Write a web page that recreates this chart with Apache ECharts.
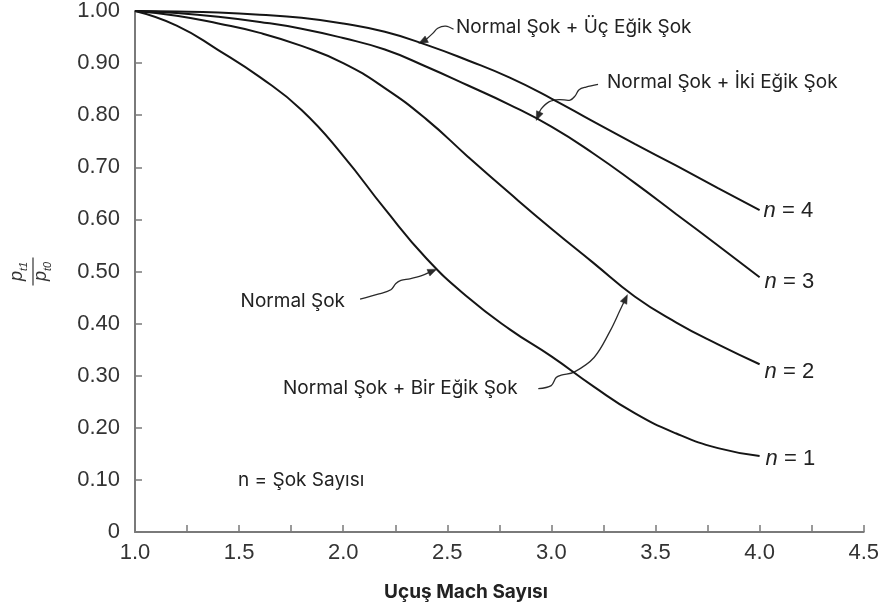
<!DOCTYPE html>
<html>
<head>
<meta charset="utf-8">
<script src="https://cdn.jsdelivr.net/npm/echarts@6/dist/echarts.min.js"></script>
<style>html,body{margin:0;padding:0;background:#fff}#c{width:882px;height:613px}</style>
</head>
<body>
<div id="c"></div>
<script>
// ---- data ----
const mach = [1.0,1.2,1.4,1.6,1.8,2.0,2.2,2.4,2.6,2.8,3.0,3.2,3.4,3.6,3.8,4.0];
const n1 = [1.000,0.972,0.925,0.873,0.810,0.722,0.620,0.525,0.450,0.389,0.337,0.280,0.228,0.189,0.161,0.146];
const n2 = [1.000,0.991,0.976,0.958,0.933,0.900,0.852,0.792,0.720,0.650,0.582,0.517,0.452,0.402,0.360,0.322];
const n3 = [1.000,0.996,0.989,0.979,0.966,0.948,0.926,0.893,0.857,0.820,0.778,0.727,0.670,0.610,0.550,0.489];
const n4 = [1.000,0.999,0.997,0.993,0.987,0.976,0.960,0.935,0.905,0.872,0.832,0.788,0.745,0.703,0.660,0.618];
const seriesNames = ['n = 1','n = 2','n = 3','n = 4'];
const endLabelTexts = ['1','2','3','4'];
const xTickLabels = ['1.0','1.5','2.0','2.5','3.0','3.5','4.0','4.5'];
const yTickLabels = ['0','0.10','0.20','0.30','0.40','0.50','0.60','0.70','0.80','0.90','1.00'];
const xAxisTitle = 'Uçuş Mach Sayısı';
const yAxisTitle = ['t1','t0'];
const noteTexts = ['Normal Şok + Üç Eğik Şok','Normal Şok + İki Eğik Şok','Normal Şok','Normal Şok + Bir Eğik Şok','n = Şok Sayısı'];
// annotation arrow paths, in data coordinates (Mach, pt1/pt0)
const arrowUc  = [[2.530,0.965],[2.492,0.971],[2.454,0.967],[2.430,0.957],[2.397,0.945],[2.363,0.938]];
const arrowIki = [[3.224,0.859],[3.166,0.854],[3.133,0.849],[3.114,0.837],[3.090,0.829],[3.037,0.830],[2.990,0.826],[2.951,0.812],[2.927,0.790]];
const arrowNormal = [[2.081,0.447],[2.172,0.457],[2.229,0.465],[2.253,0.477],[2.277,0.483],[2.320,0.486],[2.377,0.492],[2.449,0.5045]];
const arrowBir = [[2.937,0.275],[2.999,0.281],[3.023,0.2965],[3.047,0.301],[3.109,0.307],[3.205,0.335],[3.281,0.385],[3.329,0.425],[3.365,0.4556]];

const chart = echarts.init(document.getElementById('c'), null, {renderer:'canvas'});
const lineData = [n1,n2,n3,n4].map(arr => arr.map((v,i)=>[mach[i], v]));
const endOffsets = [[-2,3],[-3,8],[-3,5],[-4,1]];
const AXIS = '#7a7a7a';
const TXT = '#333';

const option = {
  animation:false,
  backgroundColor:'#fff',
  grid:{left:132, right:18, top:10, bottom:81},
  xAxis:{
    type:'value', min:1, max:4.5, interval:0.25,
    axisLine:{show:true, onZero:false, lineStyle:{color:AXIS, width:2}},
    axisTick:{show:true, inside:true, length:7, lineStyle:{color:AXIS, width:1.5}},
    splitLine:{show:false},
    axisLabel:{
      margin:10, color:TXT, fontFamily:'Liberation Sans', fontSize:22,
      formatter:(v)=>{ const k = Math.round((v-1)/0.5); return Math.abs((v-1)/0.5 - k) < 1e-6 ? xTickLabels[k] : ''; }
    }
  },
  yAxis:{
    type:'value', min:0, max:1, interval:0.1,
    axisLine:{show:true, lineStyle:{color:AXIS, width:2}},
    axisTick:{show:true, inside:true, length:7, lineStyle:{color:AXIS, width:1.5}},
    splitLine:{show:false},
    name:'{p|p}{s|' + yAxisTitle[0] + '}\n{p|p}{s|' + yAxisTitle[1] + '}',
    nameLocation:'middle', nameRotate:90, nameGap:82,
    nameTextStyle:{
      color:TXT,
      rich:{
        p:{fontFamily:'Liberation Sans', fontStyle:'italic', fontSize:18, color:TXT, lineHeight:24},
        s:{fontFamily:'Liberation Sans', fontStyle:'italic', fontSize:11, color:TXT, lineHeight:24, verticalAlign:'bottom'}
      }
    },
    axisLabel:{
      margin:15, color:TXT, fontFamily:'Liberation Sans', fontSize:22,
      formatter:(v)=> yTickLabels[Math.round(v*10)]
    }
  },
  series: lineData.map((d,i)=>({
    name: seriesNames[i], type:'line', data:d, smooth:0.5,
    showSymbol:false, symbol:'none',
    lineStyle:{color:'#151515', width:2},
    endLabel:{
      show:true, offset:endOffsets[i], color:'#222',
      formatter:()=> '{i|n} = ' + endLabelTexts[i],
      fontFamily:'Liberation Sans', fontSize:22,
      rich:{i:{fontStyle:'italic', fontFamily:'Liberation Sans', fontSize:22, color:'#222'}}
    }
  }))
};
chart.setOption(option);

function px(d){ return chart.convertToPixel({gridIndex:0}, d); }
function arrow(pts){
  const p = pts.map(px);
  const last = p[p.length-1], prev = p[p.length-2];
  const ang = Math.atan2(last[1]-prev[1], last[0]-prev[0]);
  const L = 9, W = 3.6;
  const bx = last[0]-L*Math.cos(ang), by = last[1]-L*Math.sin(ang);
  const head = [last, [bx - W*Math.sin(ang), by + W*Math.cos(ang)], [bx + W*Math.sin(ang), by - W*Math.cos(ang)]];
  const line = p.slice(0,-1).concat([[bx+2*Math.cos(ang), by+2*Math.sin(ang)]]);
  return [
    {type:'polyline', silent:true, shape:{points:line, smooth:0.35}, style:{stroke:'#2a2a2a', lineWidth:1.3, fill:null}},
    {type:'polygon', silent:true, shape:{points:head}, style:{fill:'#2a2a2a', stroke:'#2a2a2a', lineWidth:0.5}}
  ];
}
const NOTE_FONT = '19px Inter';
function note(text, x, y, align){
  return {type:'text', silent:true, x:x, y:y, style:{text:text, font:NOTE_FONT, fill:'#222', align:align||'left', textAlign:align||'left', verticalAlign:'middle', textVerticalAlign:'middle'}};
}
// fraction bar of the y-axis title, placed relative to the plot's vertical middle
const yMid = (px([1,0])[1] + px([1,1])[1]) / 2;
const graphics = [].concat(
  arrow(arrowUc), arrow(arrowIki), arrow(arrowNormal), arrow(arrowBir),
  [
    note(noteTexts[0], 456, 27),
    note(noteTexts[1], 607, 82),
    note(noteTexts[2], 345, 301, 'right'),
    note(noteTexts[3], 283, 388),
    note(noteTexts[4], 238, 480),
    {type:'text', silent:true, x:466, y:592, style:{text:xAxisTitle, font:'bold 19px Inter', fill:'#222', align:'center', textAlign:'center', verticalAlign:'middle', textVerticalAlign:'middle'}},
    {type:'line', silent:true, shape:{x1:33, y1:yMid-14, x2:33, y2:yMid+14}, style:{stroke:'#333', lineWidth:1.2}}
  ]
);
chart.setOption({graphic:{elements:graphics}});
</script>
</body>
</html>
